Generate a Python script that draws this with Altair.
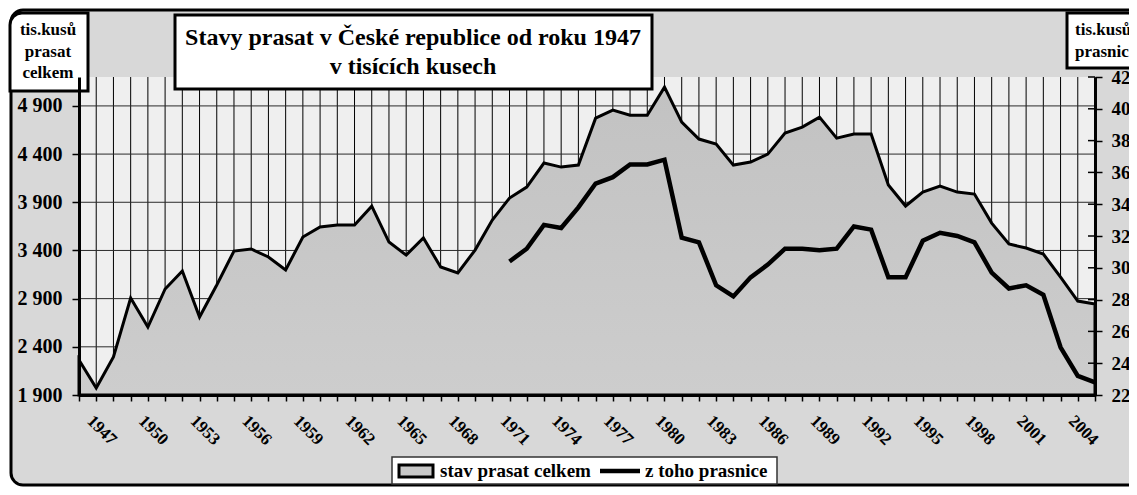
import altair as alt
import pandas as pd

# ---------------- data ----------------
years = list(range(1946, 2006))
total = [2263, 1973, 2294, 2906, 2605, 3000, 3186, 2709, 3041, 3394,
         3415, 3332, 3197, 3539, 3643, 3664, 3664, 3860, 3487, 3352,
         3529, 3228, 3166, 3404, 3715, 3944, 4058, 4307, 4265, 4286,
         4773, 4856, 4804, 4804, 5095, 4732, 4556, 4504, 4286, 4317,
         4400, 4618, 4680, 4784, 4566, 4608, 4608, 4079, 3861, 4006,
         4068, 4006, 3985, 3684, 3467, 3425, 3363, 3124, 2875, 2844]
sow_years = list(range(1971, 2006))
sows = [304, 312, 327, 325, 338, 353, 357, 365, 365, 368,
        319, 316, 289, 282, 294, 302, 312, 312, 311, 312,
        326, 324, 294, 294, 317, 322, 320, 316, 297, 287,
        289, 283, 250, 232, 228]
label_years = [1947, 1950, 1953, 1956, 1959, 1962, 1965, 1968, 1971, 1974,
               1977, 1980, 1983, 1986, 1989, 1992, 1995, 1998, 2001, 2004]
left_ticks = [1900, 2400, 2900, 3400, 3900, 4400, 4900]
right_ticks = [220, 240, 260, 280, 300, 320, 340, 360, 380, 400, 420]
title_lines = ["Stavy prasat v České republice od roku 1947", "v tisících kusech"]
left_title = ["tis.kusů", "prasat", "celkem"]
right_title = ["tis.kusů", "prasnic"]
legend_labels = ["stav prasat celkem", "z toho prasnice"]

W, H = 1016, 318
FONT = "Liberation Serif"

df_total = pd.DataFrame({"year": years, "total": total})
df_sows = pd.DataFrame({"year": sow_years, "sows": sows})
df_years = pd.DataFrame({"year": years})
df_hgrid = pd.DataFrame({"v": left_ticks[1:]})
df_rt = pd.DataFrame({"v": right_ticks})
one = pd.DataFrame({"k": [0]})

common_axis = dict(zindex=5, domainColor="black", tickColor="black",
                   labelColor="black", labelFont=FONT, labelFontWeight="bold",
                   tickWidth=1.5, grid=False, title=None, domainWidth=3)

xscale = alt.Scale(domain=[years[0], years[-1]], nice=False, zero=False)
label_js = ",".join(str(y) for y in label_years)
xaxis = alt.Axis(values=years, format="d",
                 labelExpr=f"indexof([{label_js}], datum.value) >= 0 ? datum.label : ''",
                 labelAngle=45, labelAlign="center", labelBaseline="middle",
                 labelPadding=29, labelOffset=5, labelFontSize=17,
                 tickSize=6, labelOverlap=False, labelFlush=False,
                 orient="bottom", **common_axis)

yscale_l = alt.Scale(domain=[1900, 5200], nice=False, zero=False)
yaxis_l = alt.Axis(values=left_ticks, orient="left",
                   labelExpr="replace(format(datum.value, ','), ',', ' ')",
                   labelFontSize=20, labelPadding=10, tickSize=7,
                   **common_axis)

yscale_r = alt.Scale(domain=[220, 420], nice=False, zero=False)
yaxis_r = alt.Axis(values=right_ticks, orient="right", format="d",
                   labelFontSize=19, labelPadding=9, tickSize=7,
                   **common_axis)

grad = alt.Gradient(gradient="linear",
                    stops=[alt.GradientStop(color="#c2c2c2", offset=0),
                           alt.GradientStop(color="#cdcdcd", offset=1)],
                    x1=0, x2=0, y1=0, y2=1)


def box(x1, x2, y1, y2, **kw):
    style = dict(fill="white", stroke="black", strokeWidth=3)
    style.update(kw)
    return alt.Chart(one).mark_rect(**style).encode(
        x=alt.value(x1), x2=alt.value(x2), y=alt.value(y1), y2=alt.value(y2))


def text(s, x, y, size, align="center"):
    return alt.Chart(one).mark_text(font=FONT, fontWeight="bold", fontSize=size,
                                    align=align, baseline="middle", color="black").encode(
        x=alt.value(x), y=alt.value(y), text=alt.value(s))


# ---------------- layers ----------------
frame = box(-68, 1062, -67, 408, fill="#d8d8d8", cornerRadius=12)
bg = box(0, W, 0, H, fill="#efefef", strokeWidth=0)

vgrid = alt.Chart(df_years).mark_rule(color="black", strokeWidth=1).encode(
    x=alt.X("year:Q", scale=xscale, axis=xaxis), y=alt.value(0), y2=alt.value(H))
hgrid = alt.Chart(df_hgrid).mark_rule(color="#2a2a2a", strokeWidth=1).encode(
    y=alt.Y("v:Q", scale=yscale_l, axis=yaxis_l), x=alt.value(0), x2=alt.value(W))
area = alt.Chart(df_total).mark_area(fill=grad, stroke="black", strokeWidth=3,
                                     strokeJoin="miter").encode(
    x=alt.X("year:Q", scale=xscale, axis=xaxis),
    y=alt.Y("total:Q", scale=yscale_l, axis=yaxis_l),
    y2=alt.datum(left_ticks[0]))

line = alt.Chart(df_sows).mark_line(color="black", strokeWidth=4.5,
                                    strokeJoin="miter").encode(
    x=alt.X("year:Q", scale=xscale, axis=xaxis),
    y=alt.Y("sows:Q", scale=yscale_r, axis=yaxis_r))
rticks = alt.Chart(df_rt).mark_rule(color="black", strokeWidth=1.5).encode(
    y=alt.Y("v:Q", scale=yscale_r, axis=yaxis_r), x=alt.value(W - 7), x2=alt.value(W))

left_group = alt.layer(frame, bg, vgrid, hgrid, area)
right_group = alt.layer(line, rticks)

deco = alt.layer(
    # left axis title box
    box(-69, 9, -64, 14, cornerRadiusTopLeft=12),
    text(left_title[0], -31, -47, 17),
    text(left_title[1], -31, -25, 17),
    text(left_title[2], -31, -4, 17),
    # chart title box
    box(96, 573, -62, 12),
    text(title_lines[0], 334, -39, 24),
    text(title_lines[1], 334, -10, 24),
    # right axis title box
    box(988, 1070, -64, -9),
    text(right_title[0], 996, -47, 17, align="left"),
    text(right_title[1], 996, -25, 17, align="left"),
    # legend
    box(313, 698, 380, 407, stroke="#333333", strokeWidth=1.5),
    box(320, 354, 388, 400, fill="#c8c8c8", strokeWidth=3),
    text(legend_labels[0], 361, 394, 19, align="left"),
    alt.Chart(one).mark_rule(color="black", strokeWidth=4.5).encode(
        x=alt.value(521), x2=alt.value(561), y=alt.value(394)),
    text(legend_labels[1], 566, 394, 19, align="left"),
)

chart = alt.layer(left_group, right_group, deco).resolve_scale(
    y="independent"
).properties(
    width=W, height=H,
    padding={"left": 71, "top": 69, "right": 34, "bottom": 92},
    autosize=alt.AutoSizeParams(type="none"),
    background="white",
).configure_view(stroke=None)

chart.save("out.html", embed_options={"renderer": "svg", "actions": False})
